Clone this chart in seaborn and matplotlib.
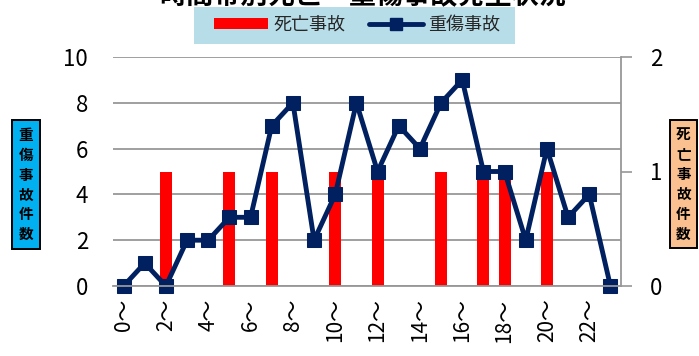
import numpy as np
import pandas as pd
import matplotlib
matplotlib.use("Agg")
import matplotlib.pyplot as plt
from matplotlib.patches import Rectangle, Patch
from matplotlib.lines import Line2D
import seaborn as sns

# hourly accident counts
hours = list(range(24))
fatal = [0, 0, 1, 0, 0, 1, 0, 1, 0, 0, 1, 0, 1, 0, 0, 1, 0, 1, 1, 0, 1, 0, 0, 0]
serious = [0, 1, 0, 2, 2, 3, 3, 7, 8, 2, 4, 8, 5, 7, 6, 8, 9, 5, 5, 2, 6, 3, 4, 0]
tick_hours = hours[::2]
tick_labels = [f"{h}〜" for h in tick_hours]

title_text = "時間帯別死亡・重傷事故発生状況"
fatal_name = "死亡事故"
serious_name = "重傷事故"
left_label = "重傷事故件数"
right_label = "死亡事故件数"

RED = "#FF0000"
NAVY = "#002060"
GRID = "#979797"

sns.set_theme(style="white")
plt.rcParams["font.family"] = ["Noto Sans CJK JP", "DejaVu Sans"]

W, H = 699, 356
fig = plt.figure(figsize=(W / 100, H / 100), dpi=100)


def fx(px):
    return px / W


def fy(py):
    return 1 - py / H


ax = fig.add_axes([fx(113), fy(286), fx(621) - fx(113), fy(57) - fy(286)])
ax2 = ax.twinx()
ax.set_zorder(ax2.get_zorder() + 1)
ax.patch.set_visible(False)

df = pd.DataFrame({"hour": hours, "fatal": fatal, "serious": serious})

# fatal accidents: bars on the right axis
sns.barplot(data=df, x="hour", y="fatal", native_scale=True, width=0.57,
            color=RED, saturation=1, linewidth=0, errorbar=None, ax=ax2)
# serious accidents: line on the left axis
sns.lineplot(data=df, x="hour", y="serious", color=NAVY, linewidth=3.5,
             marker="s", markersize=10, markeredgecolor=NAVY,
             markerfacecolor=NAVY, clip_on=False, ax=ax)

ax.set_xlim(-0.5, 23.5)
ax.set_ylim(0, 10)
ax2.set_ylim(0, 2)

ax.set_yticks(range(0, 11, 2))
ax.tick_params(axis="y", length=0, pad=18, labelsize=16, colors="black")
ax.set_xticks(tick_hours, tick_labels, rotation=90)
ax.tick_params(axis="x", length=0, pad=9, labelsize=15, colors="black")

ax2.set_yticks([0, 1, 2])
ax2.tick_params(axis="y", which="major", length=8, width=1.2, color=GRID,
                pad=13, labelsize=16, labelcolor="black")
ax2.set_yticks(np.arange(0, 2.01, 0.4), minor=True)
ax2.yaxis.remove_overlapping_locs = False
ax2.tick_params(axis="y", which="minor", length=0)
ax2.grid(which="minor", axis="y", color=GRID, linewidth=1.3)
ax2.grid(which="major", visible=False)
ax2.set_axisbelow(True)

for a in (ax, ax2):
    a.set_xlabel("")
    a.set_ylabel("")
    for side in ("top", "left", "right", "bottom"):
        a.spines[side].set_visible(False)
ax.spines["bottom"].set_visible(True)
ax.spines["bottom"].set_color(GRID)
ax.spines["bottom"].set_linewidth(1.3)
ax2.spines["right"].set_visible(True)
ax2.spines["right"].set_color(GRID)
ax2.spines["right"].set_linewidth(1.3)

# title (runs off the top edge, partly under the legend band)
fig.text(fx(363), fy(4), title_text, ha="center", va="baseline",
         fontsize=19.5, fontweight="bold", color="black", zorder=0)

# legend band
fig.add_artist(Rectangle((fx(194), fy(44)), fx(515) - fx(194), fy(7) - fy(44),
                         transform=fig.transFigure, facecolor="#B7DDE8",
                         edgecolor="none", zorder=1))
handles = [Patch(facecolor=RED, edgecolor="none"),
           Line2D([], [], color=NAVY, linewidth=3.5, marker="s",
                  markersize=8, markerfacecolor=NAVY, markeredgecolor=NAVY)]
leg = fig.legend(handles, [fatal_name, serious_name], loc="center",
                 bbox_to_anchor=(fx(357), fy(25)), ncol=2, frameon=False,
                 fontsize=13, handlelength=3.0, handleheight=0.6,
                 handletextpad=0.3, columnspacing=1.3, borderpad=0)
leg.set_zorder(2)


def side_box(x0, x1, y0, y1, face, text):
    fig.add_artist(Rectangle((fx(x0), fy(y1)), fx(x1) - fx(x0), fy(y0) - fy(y1),
                             transform=fig.transFigure, facecolor=face,
                             edgecolor="black", linewidth=1.4, zorder=1))
    fig.text(fx((x0 + x1) / 2), fy((y0 + y1) / 2), "\n".join(text),
             ha="center", va="center", fontsize=10.5, fontweight="bold",
             linespacing=1.3, color="black", zorder=2)


side_box(12, 40, 120, 249, "#00B0F0", left_label)
side_box(670, 697, 120, 248, "#FAC090", right_label)

fig.savefig("out.png", dpi=100)
